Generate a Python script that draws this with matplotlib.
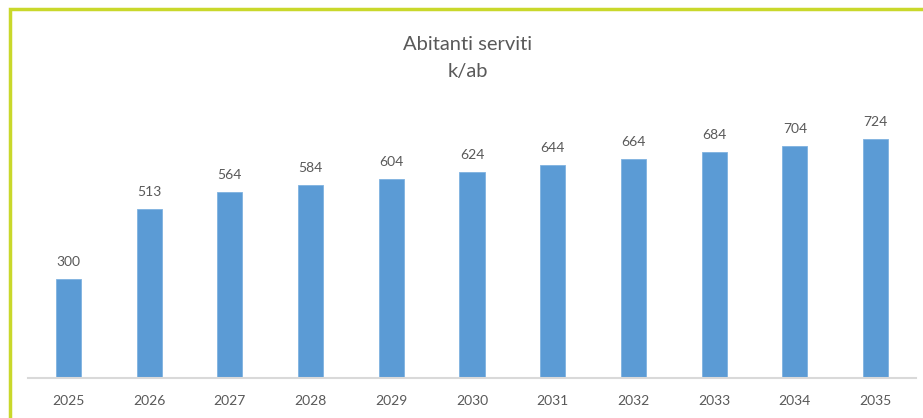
import matplotlib.pyplot as plt
from matplotlib.patches import Rectangle

years = ['2025', '2026', '2027', '2028', '2029', '2030', '2031', '2032', '2033', '2034', '2035']
abitanti = [300, 513, 564, 584, 604, 624, 644, 664, 684, 704, 724]

plt.rcParams['font.family'] = ['Lato', 'DejaVu Sans']

W, H = 923, 418
fig = plt.figure(figsize=(W / 100, H / 100), dpi=100)

# cornice verde (solo lati sinistro e superiore visibili)
fig.patches.append(Rectangle((10 / W, -0.1), 1.2, (H - 9) / H + 0.1,
                             transform=fig.transFigure, fill=False,
                             edgecolor='#C9D82B', linewidth=2.5))

ax = fig.add_axes([28 / W, 40 / H, 888 / W, 260 / H])
x = range(len(years))
bars = ax.bar(x, abitanti, width=0.31, color='#5B9BD5', edgecolor='#7FB2E0', linewidth=0.6)

ax.set_xlim(-0.5, len(years) - 0.5)
ax.set_ylim(0, 260 / 0.33)

for rect, v in zip(bars, abitanti):
    ax.annotate(str(v), (rect.get_x() + rect.get_width() / 2, v),
                xytext=(0, 8), textcoords='offset points',
                ha='center', va='bottom', fontsize=10, color='#595959')

ax.set_xticks(list(x))
ax.set_xticklabels(years, fontsize=10, color='#595959')
ax.tick_params(axis='x', length=0, pad=12)
ax.set_yticks([])
for s in ['top', 'right', 'left']:
    ax.spines[s].set_visible(False)
ax.spines['bottom'].set_color('#D9D9D9')
ax.spines['bottom'].set_linewidth(1.5)

fig.text(468 / W, 1 - 44 / H, 'Abitanti serviti', ha='center', va='center',
         fontsize=14.5, color='#595959')
fig.text(468 / W, 1 - 71 / H, 'k/ab', ha='center', va='center',
         fontsize=14.5, color='#595959')

fig.savefig('out.png', dpi=100, facecolor='white')
